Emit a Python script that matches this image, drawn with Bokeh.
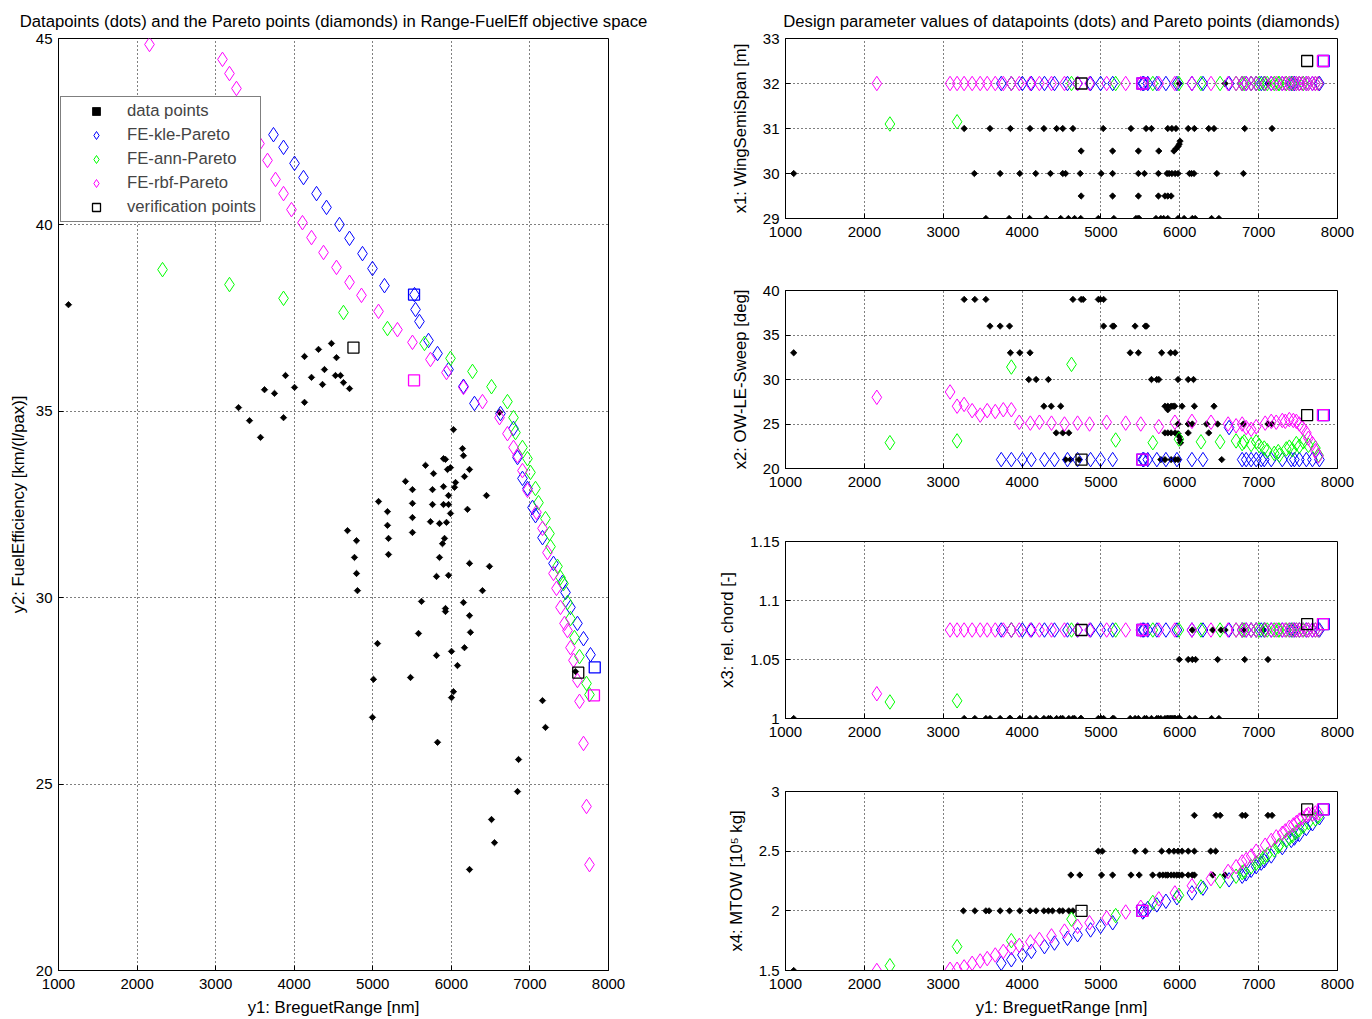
import math
from bokeh.plotting import figure
from bokeh.layouts import row, column
from bokeh.models import (FixedTicker, Legend, LegendItem, NumeralTickFormatter, Range1d)
from bokeh.embed import file_html
from bokeh.resources import INLINE

FONT = "Liberation Sans"
BLUE, GREEN, MAGENTA = "#0000ff", "#00ff00", "#ff00ff"

# ---------------- data ----------------
range_ticks = [1000, 2000, 3000, 4000, 5000, 6000, 7000, 8000]
fe_ticks = [20, 25, 30, 35, 40, 45]
x1_ticks = [29, 30, 31, 32, 33]
x2_ticks = [20, 25, 30, 35, 40]
x3_ticks = [1.0, 1.05, 1.1, 1.15]
x4_ticks = [1.5, 2.0, 2.5, 3.0]

# data points in objective space
data_range = [1127, 4474, 4309, 4131, 4538, 4385, 3889, 4220, 4525, 4589, 4004, 4360, 4627, 4704,
              3622, 3749, 4131, 3291, 3864, 3431, 3571, 6613,
              6027, 6142, 6154, 5900, 5925, 5671, 5989, 5951, 6231, 5773, 6167, 5416, 6053, 6040,
              5505, 5760, 5900, 5964, 6447, 5073, 5505, 5760, 5900, 5964, 5187, 5989, 6205, 5505,
              5734, 5849, 5938, 5187, 5505, 5200, 5913, 4678, 4793, 5887, 5200, 5849, 4767, 6231,
              6485, 4793, 5811, 5964, 4805, 6396, 5620, 6154, 5925, 5925, 6231, 5582, 6243, 6002,
              6167, 5811, 6078, 5480, 6027, 6002, 7160, 7198, 5824, 6855, 6842, 6511, 6549, 6231,
              5060, 5009, 4996, 7580]
data_fe = [37.86, 36.82, 36.66, 36.47, 36.44, 36.12, 35.96, 35.91, 35.96, 35.96, 35.64, 35.72, 35.77, 35.61,
           35.58, 35.48, 35.24, 35.10, 34.83, 34.75, 34.30, 34.97,
           34.51, 34.00, 33.81, 33.73, 33.71, 33.55, 33.49, 33.44, 33.44, 33.33, 33.25, 33.12, 33.09, 32.96,
           32.90, 32.90, 32.98, 32.74, 32.74, 32.58, 32.53, 32.50, 32.50, 32.50, 32.31, 32.26, 32.37, 32.15,
           32.04, 31.99, 32.02, 31.94, 31.75, 31.59, 31.59, 31.80, 31.53, 31.45, 31.16, 31.08, 31.08, 30.92,
           30.84, 30.65, 30.57, 30.60, 30.19, 30.19, 29.90, 29.87, 29.71, 29.63, 29.52, 29.04, 29.07, 28.56,
           28.66, 28.45, 28.18, 27.86, 27.48, 27.32, 27.24, 26.52, 26.12, 25.66, 24.80, 24.05, 23.43, 22.71,
           28.77, 27.81, 26.79, 28.02]

# FE-kle Pareto
kle_range = [3736, 3864, 4004, 4118, 4284, 4411, 4576, 4704, 4869, 4996, 5149, 5531, 5544, 5594, 5709,
             5824, 5964, 6154, 6294, 6625, 6791, 6842, 6905, 6969, 7033, 7071, 7160, 7300, 7414, 7453,
             7516, 7605, 7682, 7771]
kle_fe = [42.42, 42.08, 41.65, 41.27, 40.84, 40.47, 40.01, 39.64, 39.23, 38.83, 38.37, 38.13, 37.73, 37.41,
          36.90, 36.55, 36.12, 35.67, 35.21, 34.94, 34.54, 33.76, 33.20, 32.93, 32.42, 32.20, 31.61, 30.92,
          30.41, 30.14, 29.74, 29.31, 28.90, 28.47]
kle_x1 = [32, 32, 32, 32, 32, 32, 32, 32, 32, 32, 32, 32, 32, 32, 32, 32, 32, 32, 32, 32,
          32, 32, 32, 32, 32, 32, 32, 32, 32, 32, 32, 32, 32, 32]
kle_x2 = [21, 21, 21, 21, 21, 21, 21, 21, 21, 21, 21, 21, 21, 21, 21, 21, 21, 21, 21, 24.6,
          21, 21, 21, 21, 21, 21, 21, 21, 21, 21, 21, 21, 21, 21]
kle_x3 = [1.075, 1.075, 1.075, 1.075, 1.075, 1.075, 1.075, 1.075, 1.075, 1.075, 1.075, 1.075,
          1.075, 1.075, 1.075, 1.075, 1.075, 1.075, 1.075, 1.075, 1.075, 1.075, 1.075, 1.075,
          1.075, 1.075, 1.075, 1.075, 1.075, 1.075, 1.075, 1.075, 1.075, 1.075]
kle_x4 = [1.56, 1.59, 1.63, 1.66, 1.70, 1.73, 1.77, 1.80, 1.84, 1.87, 1.90, 1.99, 2.00, 2.02, 2.05,
          2.08, 2.11, 2.15, 2.19, 2.26, 2.29, 2.31, 2.34, 2.37, 2.40, 2.42, 2.46, 2.53, 2.59, 2.61,
          2.64, 2.69, 2.73, 2.78]

# FE-ann Pareto
ann_range = [2324, 3176, 3864, 4627, 5187, 5658, 5989, 6269, 6511, 6714, 6791, 6816, 6905, 6969, 7007,
             7071, 7109, 7198, 7249, 7262, 7351, 7389, 7427, 7478, 7516, 7567, 7631, 7720, 7758]
ann_fe = [38.80, 38.40, 38.03, 37.65, 37.22, 36.82, 36.42, 36.07, 35.66, 35.26, 34.83, 34.43, 34.03,
          33.73, 33.36, 32.93, 32.55, 32.12, 31.72, 31.37, 30.84, 30.54, 30.38, 29.87, 29.44, 28.93,
          28.42, 27.70, 27.40]
ann_x1 = [31.1, 31.15, 32, 32, 32, 32, 32, 32, 32, 32, 32, 32, 32, 32, 32, 32, 32, 32, 32, 32,
          32, 32, 32, 32, 32, 32, 32, 32, 32]
ann_x2 = [22.9, 23.1, 31.4, 31.7, 23.2, 22.9, 23.3, 23.0, 23.0, 23.1, 22.8, 23.0, 22.7, 23.0, 22.6,
          22.3, 22.0, 21.7, 21.9, 21.5, 22.2, 22.4, 22.1, 22.8, 22.5, 23.0, 22.6, 22.3, 21.5]
ann_x3 = [1.014, 1.015, 1.075, 1.075, 1.075, 1.075, 1.075, 1.075, 1.075, 1.075, 1.075, 1.075,
          1.075, 1.075, 1.075, 1.075, 1.075, 1.075, 1.075, 1.075, 1.075, 1.075, 1.075, 1.075,
          1.075, 1.075, 1.075, 1.075, 1.075]
ann_x4 = [1.54, 1.70, 1.75, 1.93, 1.96, 2.07, 2.13, 2.20, 2.25, 2.29, 2.32, 2.33, 2.37, 2.40, 2.42,
          2.45, 2.47, 2.51, 2.54, 2.55, 2.59, 2.61, 2.63, 2.66, 2.68, 2.71, 2.74, 2.77, 2.79]

# FE-rbf Pareto
rbf_range = [2158, 3087, 3176, 3265, 3367, 3469, 3558, 3660, 3762, 3864, 3965, 4105, 4220, 4373, 4538,
             4704, 4856, 5073, 5314, 5505, 5734, 5938, 6154, 6396, 6613, 6714, 6791, 6842, 6905, 6969,
             7083, 7160, 7223, 7300, 7338, 7389, 7440, 7478, 7516, 7554, 7605, 7631, 7682, 7720, 7758]
rbf_fe = [44.84, 44.44, 44.06, 43.66, 43.15, 42.67, 42.18, 41.73, 41.22, 40.84, 40.41, 40.06, 39.66,
          39.26, 38.86, 38.46, 38.11, 37.68, 37.19, 36.85, 36.39, 36.04, 35.64, 35.26, 34.83, 34.40,
          34.03, 33.81, 33.41, 32.88, 32.29, 31.86, 31.21, 30.65, 30.25, 29.74, 29.31, 29.12, 28.66,
          28.32, 27.78, 27.22, 26.09, 24.40, 22.84]
rbf_x1 = [32, 32, 32, 32, 32, 32, 32, 32, 32, 32, 32, 32, 32, 32, 32, 32, 32, 32, 32, 32, 32, 32,
          32, 32, 32, 32, 32, 32, 32, 32, 32, 32, 32, 32, 32, 32, 32, 32, 32, 32, 32, 32, 32, 32, 32]
rbf_x2 = [28.0, 28.6, 27.0, 27.2, 26.5, 26.0, 26.5, 26.4, 26.6, 26.6, 25.2, 25.1, 25.2, 25.1, 25.0,
          25.1, 25.0, 25.2, 25.1, 25.0, 24.7, 25.2, 25.3, 25.2, 25.0, 24.8, 25.0, 24.6, 24.4, 24.7,
          25.1, 25.3, 25.2, 25.4, 25.3, 25.5, 25.4, 25.3, 25.0, 24.6, 24.0, 23.4, 22.8, 22.0, 21.4]
rbf_x3 = [1.021, 1.075, 1.075, 1.075, 1.075, 1.075, 1.075, 1.075, 1.075, 1.075, 1.075, 1.075,
          1.075, 1.075, 1.075, 1.075, 1.075, 1.075, 1.075, 1.075, 1.075, 1.075, 1.075, 1.075,
          1.075, 1.075, 1.075, 1.075, 1.075, 1.075, 1.075, 1.075, 1.075, 1.075, 1.075, 1.075,
          1.075, 1.075, 1.075, 1.075, 1.075, 1.075, 1.075, 1.075, 1.075]
rbf_x4 = [1.50, 1.51, 1.51, 1.53, 1.56, 1.58, 1.60, 1.63, 1.66, 1.69, 1.71, 1.74, 1.76, 1.79, 1.83,
          1.87, 1.90, 1.94, 1.99, 2.03, 2.10, 2.15, 2.21, 2.27, 2.33, 2.37, 2.41, 2.43, 2.46, 2.50,
          2.55, 2.59, 2.62, 2.65, 2.67, 2.70, 2.72, 2.74, 2.76, 2.78, 2.80, 2.81, 2.81, 2.82, 2.82]

# verification points (black: reference, blue: kle, magenta: rbf)
ver_range = [4754, 7615]
ver_fe = [36.71, 27.99]
ver_kle_range = [5525, 7825]
ver_kle_fe = [38.13, 28.13]
ver_rbf_range = [5525, 7815]
ver_rbf_fe = [35.83, 27.38]
ver_x1 = [32, 32.5]
ver_x2 = [21, 26]
ver_x3 = [1.075, 1.08]
ver_x4 = [2.0, 2.85]

# design parameters of the data points, grouped by parameter level
x1_dot_rows = [
    (32, [5993, 6574, 7118]),
    (31, [3266, 3593, 3852, 4101, 4277, 4438, 4516, 4645, 5029, 5381, 5573, 5641, 5848, 5900,
          5952, 6107, 6185, 6367, 6434, 6823, 7170]),
    (30.5, [4749, 5148, 5475, 5734, 5926]),
    (30.55, [5952]), (30.6, [5978]), (30.65, [5993]), (30.72, [6003]),
    (30, [1104, 3395, 3722, 3971, 4173, 4360, 4516, 4552, 4738, 5003, 5148, 5475, 5552, 5729,
          5838, 5864, 5900, 5941, 5978, 6123, 6149, 6180, 6470, 6807]),
    (29.5, [4749, 5148, 5475, 5729, 5812, 5848, 5890]),
    (29, [3541, 3836, 4095, 4308, 4490, 4588, 4666, 4744, 4967, 5164, 5444, 5470, 5485, 5698,
          5760, 5796, 5848, 5978, 6055, 6159, 6195, 6403, 6496]),
]
x2_dot_rows = [
    (33, [1104, 3852, 3971, 4101, 5371, 5475, 5770, 5884, 5941]),
    (39, [3266, 3401, 3541, 4645, 4749, 4775, 4967, 4993, 5034]),
    (36, [3593, 3722, 3841, 5034, 5148, 5164, 5433, 5563, 5578]),
    (30, [4085, 4178, 4334, 5641, 5708, 5734, 5978, 6107, 6174]),
    (27, [4277, 4370, 4490, 5812, 5848, 5890, 5915, 5936, 6029, 6185, 6434]),
    (26.6, [5848]),
    (25, [5978, 6107, 6159, 6340, 6480, 6807, 7118, 7170]),
    (24, [4433, 4516, 4593, 5812, 5848, 5890, 5941, 6107, 6367]),
    (23.9, [5978]), (23.6, [5993]), (23.2, [6003]), (22.9, [6010]),
    (21, [4552, 4614, 4723, 5760, 5812, 5890, 5941, 5978, 6532]),
]
x3_dot_rows = [
    (1.0, [1104, 3266, 3401, 3541, 3593, 3722, 3841, 3852, 3971, 4101, 4178, 4277, 4334, 4360,
           4438, 4490, 4516, 4593, 4645, 4666, 4744, 4749, 4967, 5003, 5034, 5148, 5164, 5371,
           5433, 5475, 5552, 5578, 5641, 5708, 5729, 5760, 5812, 5838, 5848, 5864, 5884, 5900,
           5915, 5936, 5941, 5978, 6003, 6123, 6195, 6403, 6496]),
    (1.05, [5993, 6107, 6159, 6200, 6480, 6823, 7118]),
    (1.075, [6159, 6418, 6522, 6574, 6807, 7066]),
]
x4_dot_rows = [
    (1.5, [1104]),
    (2.0, [3256, 3401, 3541, 3582, 3722, 3841, 3971, 4101, 4178, 4277, 4334, 4386, 4474, 4516,
           4593, 4645]),
    (2.3, [4619, 4733, 5008, 5148, 5381, 5485, 5656, 5744, 5786, 5822, 5848, 5890, 5926, 5962,
           5993, 6029, 6107, 6159, 6185, 6418, 6574]),
    (2.5, [4967, 5018, 5433, 5563, 5770, 5864, 5926, 5978, 6029, 6107, 6185, 6392, 6455]),
    (2.8, [6185, 6460, 6512, 6791, 6833, 7118, 7170]),
]


def expand(rows):
    xs, ys = [], []
    for level, ranges in rows:
        for r in ranges:
            xs.append(r)
            ys.append(level)
    return xs, ys


def style(p, yticks, fmt=None, ylab_standoff=5):
    p.xaxis.ticker = FixedTicker(ticks=range_ticks)
    p.yaxis.ticker = FixedTicker(ticks=yticks)
    if fmt:
        p.yaxis.formatter = NumeralTickFormatter(format=fmt)
    for ax in p.axis:
        ax.major_tick_in = 5
        ax.major_tick_out = 0
        ax.minor_tick_line_color = None
        ax.major_tick_line_color = "black"
        ax.axis_line_color = "black"
        ax.major_label_text_font = FONT
        ax.major_label_text_font_size = "15px"
        ax.major_label_text_color = "black"
        ax.axis_label_text_font = FONT
        ax.axis_label_text_font_style = "normal"
        ax.axis_label_text_font_size = "16.7px"
        ax.axis_label_text_color = "black"
    p.xaxis.major_label_standoff = 8
    p.xaxis.axis_label_standoff = 6
    p.yaxis.major_label_standoff = 6
    p.yaxis.axis_label_standoff = ylab_standoff
    for g in p.grid:
        g.grid_line_color = "black"
        g.grid_line_dash = "1 3"
        g.grid_line_width = 1
    p.outline_line_color = "black"
    p.outline_line_alpha = 1
    if p.title is not None:
        p.title.text_font = FONT
        p.title.text_font_size = "16.7px"
        p.title.text_font_style = "normal"
        p.title.align = "center"
        p.title.text_color = "black"
        p.title.standoff = 16


def dots(p, x, y):
    return p.scatter(x, y, marker="square", angle=math.pi / 4, size=4.5,
                     fill_color="black", line_color="black", line_width=0.8)


def diamonds(p, x, y, color):
    return p.scatter(x, y, marker="diamond", size=14.5, fill_color=None,
                     line_color=color, line_width=1)


def squares(p, x, y, color):
    return p.scatter(x, y, marker="square", size=11, fill_color=None,
                     line_color=color, line_width=1.3)


# ---------------- main figure ----------------
main = figure(frame_width=550, frame_height=932, x_range=Range1d(1000, 8000),
              y_range=Range1d(20, 45), output_backend="svg", toolbar_location=None,
              min_border_left=58, min_border_right=107, min_border_top=38, min_border_bottom=45,
              title="Datapoints (dots) and the Pareto points (diamonds) in Range-FuelEff objective space")
main.xaxis.axis_label = "y1: BreguetRange [nm]"
main.yaxis.axis_label = "y2: FuelEfficiency [km/(l/pax)]"
style(main, fe_ticks, ylab_standoff=5)

r_data = dots(main, data_range, data_fe)
r_kle = diamonds(main, kle_range, kle_fe, BLUE)
r_ann = diamonds(main, ann_range, ann_fe, GREEN)
r_rbf = diamonds(main, rbf_range, rbf_fe, MAGENTA)
r_ver = squares(main, ver_range, ver_fe, "black")
squares(main, ver_kle_range, ver_kle_fe, BLUE)
squares(main, ver_rbf_range, ver_rbf_fe, MAGENTA)

legend = Legend(items=[
    LegendItem(label="data points", renderers=[r_data]),
    LegendItem(label="FE-kle-Pareto", renderers=[r_kle]),
    LegendItem(label="FE-ann-Pareto", renderers=[r_ann]),
    LegendItem(label="FE-rbf-Pareto", renderers=[r_rbf]),
    LegendItem(label="verification points", renderers=[r_ver]),
], location=(2, 748), margin=0, padding=4, spacing=4, glyph_width=62, glyph_height=20,
    label_height=20, label_standoff=0, label_text_font=FONT, label_text_font_size="16.7px",
    border_line_color="black", border_line_width=1, background_fill_alpha=1)
main.add_layout(legend)

# ---------------- design-parameter subplots ----------------
subs = []
specs = [
    ("x1: WingSemiSpan [m]", (29, 33), x1_ticks, None, x1_dot_rows, kle_x1, ann_x1, rbf_x1, ver_x1, 38, 180),
    ("x2: OW-LE-Sweep [deg]", (20, 40), x2_ticks, None, x2_dot_rows, kle_x2, ann_x2, rbf_x2, ver_x2, 42, 178),
    ("x3: rel. chord [-]", (1.0, 1.15), x3_ticks, "0.[00]", x3_dot_rows, kle_x3, ann_x3, rbf_x3, ver_x3, 43, 177),
    ("x4: MTOW [10\u2075 kg]", (1.5, 3.0), x4_ticks, "0.[0]", x4_dot_rows, kle_x4, ann_x4, rbf_x4, ver_x4, 43, 179),
]
for i, (lab, yr, yt, fmt, rows, kx, ax_, rx, vx, top, fh) in enumerate(specs):
    last = i == len(specs) - 1
    kw = dict(title="Design parameter values of datapoints (dots) and Pareto points (diamonds)") if i == 0 else {}
    s = figure(frame_width=552, frame_height=fh, x_range=Range1d(1000, 8000),
               y_range=Range1d(*yr), output_backend="svg", toolbar_location=None,
               min_border_left=60, min_border_right=27, min_border_top=top,
               min_border_bottom=46 if last else 30, **kw)
    s.yaxis.axis_label = lab
    if last:
        s.xaxis.axis_label = "y1: BreguetRange [nm]"
    style(s, yt, fmt, ylab_standoff=10)
    dx, dy = expand(rows)
    dots(s, dx, dy)
    diamonds(s, kle_range, kx, BLUE)
    diamonds(s, ann_range, ax_, GREEN)
    diamonds(s, rbf_range, rx, MAGENTA)
    squares(s, ver_range, vx, "black")
    squares(s, ver_kle_range, vx, BLUE)
    squares(s, ver_rbf_range, vx, MAGENTA)
    subs.append(s)

layout = row(main, column(*subs, spacing=0), spacing=0)
open("out.html", "w").write(file_html(layout, INLINE))
